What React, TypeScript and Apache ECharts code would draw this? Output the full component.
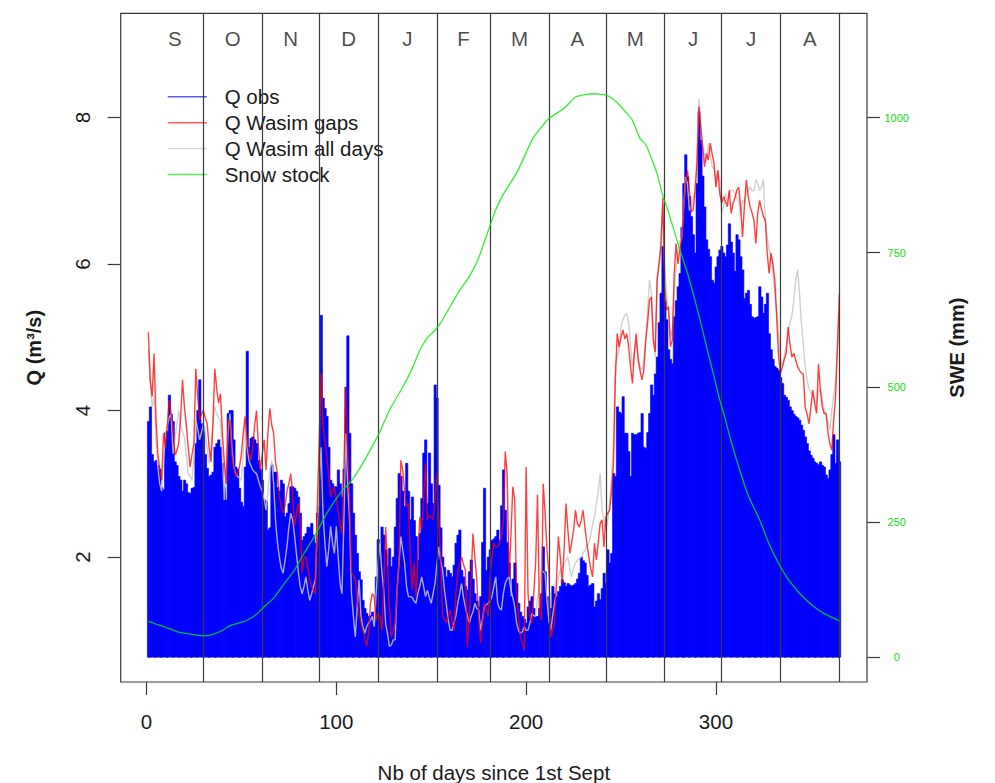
import React, { useEffect, useRef } from "react";
import * as echarts from "echarts";

// Daily values, day 1 = 1st September
const Q_OBS = [
  3.85, 4.05, 3.4, 3.3, 3.32, 3.25, 3.2, 2.95, 2.92, 3.7,
  3.72, 4.21, 3.95, 3.85, 3.3, 3.25, 3.1, 3.05, 2.9, 3.05,
  3.0, 2.88, 2.87, 2.94, 2.95, 3.55, 4.0, 4.42, 3.82, 3.78,
  3.4, 3.21, 3.1, 3.12, 3.16, 3.5, 3.55, 3.6, 3.5, 3.28,
  2.95, 2.78, 3.96, 4.0, 4.0, 3.6, 3.23, 3.2, 2.94, 2.75,
  2.69, 3.23, 4.81, 3.5, 3.62, 3.64, 3.6, 3.55, 3.32, 3.2,
  3.05, 2.78, 2.76, 2.37, 2.4, 3.26, 3.16, 3.16, 2.95, 2.9,
  3.05, 3.0, 2.55, 2.6, 2.73, 2.96, 2.96, 2.94, 2.9, 2.82,
  2.6, 2.23, 2.28, 2.32, 2.41, 2.4, 2.46, 2.3, 2.19, 2.6,
  2.7, 5.3, 4.17, 4.03, 3.92, 3.5, 3.05, 3.0, 2.96, 2.96,
  3.19, 3.0, 2.82, 3.2, 4.32, 5.02, 3.69, 3.0, 2.6, 2.3,
  2.05, 1.8, 1.69, 1.41, 1.3, 1.23, 1.19, 1.2, 1.25, 1.15,
  1.73, 2.24, 2.12, 2.41, 2.3, 2.1, 1.87, 2.12, 1.87, 2.0,
  2.41, 2.8, 3.14, 3.1, 2.9, 2.69, 3.28, 2.9, 2.51, 2.82,
  2.5, 2.28, 1.96, 2.32, 2.8, 3.42, 3.6, 2.73, 3.42, 3.0,
  2.73, 4.35, 4.17, 2.98, 2.4, 2.0, 1.86, 1.73, 1.82, 1.78,
  1.73, 1.89, 2.19, 2.3, 2.37, 1.82, 1.73, 1.6, 1.55, 1.8,
  1.96, 1.7, 1.5, 1.4, 1.32, 1.46, 2.2, 2.94, 1.82, 2.0,
  2.1, 2.23, 2.25, 2.28, 2.37, 2.23, 2.7, 3.19, 2.64, 2.2,
  1.92, 1.46, 1.7, 1.92, 1.64, 1.37, 1.25, 1.19, 1.15, 1.1,
  1.32, 1.4, 1.46, 1.3, 1.19, 1.19, 1.3, 1.5, 2.14, 1.8,
  1.46, 1.1, 1.3, 1.6, 1.5, 1.46, 1.53, 1.6, 1.69, 1.65,
  1.6, 1.64, 1.62, 1.6, 1.62, 1.64, 1.7, 1.78, 2.0, 1.95,
  1.92, 1.75, 1.6, 1.62, 1.64, 1.32, 1.4, 1.5, 1.42, 1.57,
  1.78, 1.64, 2.1, 1.92, 2.05, 3.14, 3.1, 4.05, 3.98, 3.96,
  4.19, 3.69, 3.69, 3.44, 3.1, 3.69, 3.67, 3.67, 3.69, 3.7,
  3.96, 3.5, 3.48, 3.7, 3.96, 4.35, 4.21, 4.5, 4.73, 5.2,
  5.6, 6.24, 5.5, 5.24, 4.83, 4.7, 4.64, 5.28, 5.5, 5.69,
  5.87, 6.5, 7.1, 7.49, 7.19, 6.92, 6.65, 6.4, 6.15, 7.1,
  8.08, 7.69, 7.2, 6.78, 6.33, 6.2, 6.1, 5.78, 5.74, 5.96,
  6.1, 6.19, 6.24, 6.15, 6.1, 6.26, 6.55, 6.3, 6.15, 5.9,
  6.4, 6.33, 6.1, 5.92, 5.53, 5.6, 5.64, 5.45, 5.28, 5.26,
  5.27, 5.28, 5.69, 5.55, 5.33, 5.45, 5.6, 5.05, 4.83, 4.7,
  4.6, 4.58, 4.55, 4.45, 4.37, 4.21, 4.18, 4.14, 4.05, 4.0,
  3.95, 3.92, 3.9, 3.87, 3.8, 3.73, 3.64, 3.55, 3.45, 3.39,
  3.35, 3.3, 3.28, 3.26, 3.3, 3.25, 3.23, 3.12, 3.07, 3.19,
  3.4, 3.67, 3.28, 3.6, 3.3,
];

const Q_WASIM_GAPS = [
  5.07, 4.42, 4.19, 4.78, 3.9, 3.41, 3.2, 3.05, 3.69, 3.5,
  3.8, 4.14, 3.95, 3.78, 3.39, 3.45, 3.55, 3.9, 4.42, 4.05,
  3.8, 3.5, 3.23, 3.4, 3.55, 4.57, 4.2, 3.87, 3.95, 4.0,
  3.9, 3.82, 3.5, 3.3, 3.8, 4.57, 4.3, 4.1, 4.23, 3.69,
  3.3, 3.0, 3.87, 3.87, 3.4, 3.23, 3.1, 3.15, 3.23, 3.4,
  3.7, 3.92, 3.6, 3.41, 3.32, 3.5, 3.8, 4.0, 3.5, 3.19,
  3.4, 3.6, 3.19, 3.7, 4.03, 3.8, 3.69, 3.3, 3.14, 2.82,
  2.7, 2.6, 2.7, 2.9, 3.0, 3.14, 2.87, 2.42, 2.6, 2.73,
  2.5, 1.78, 2.0, 2.0, 1.85, 1.7, 1.6, 1.55, 1.5, 2.69,
  3.6, 4.51, 3.8, 3.6, 3.37, 3.1, 2.82, 2.9, 2.96, 2.8,
  2.6, 2.45, 2.32, 3.2, 4.32, 3.5, 2.82, 1.78, 1.75, 1.69,
  1.4, 1.23, 1.1, 1.0, 0.9, 0.78, 0.96, 1.37, 1.5, 1.46,
  1.14, 1.23, 1.19, 1.0, 1.6, 2.41, 1.92, 1.3, 0.91, 1.0,
  1.1, 1.5, 1.92, 3.32, 3.19, 2.9, 2.69, 2.73, 2.0, 1.55,
  1.92, 1.46, 2.0, 2.55, 2.37, 2.8, 3.28, 2.51, 2.57, 2.55,
  2.51, 2.8, 3.14, 2.51, 1.96, 1.19, 1.15, 1.1, 1.2, 1.28,
  1.1, 1.0, 1.51, 1.78, 1.9, 2.0, 1.9, 1.82, 0.78, 1.14,
  1.7, 2.32, 2.0, 1.69, 1.2, 0.82, 1.1, 1.37, 1.3, 1.19,
  1.73, 2.0, 2.19, 2.14, 2.14, 2.19, 2.3, 2.46, 3.44, 3.14,
  1.73, 2.3, 2.96, 2.78, 1.46, 1.2, 0.91, 0.82, 0.73, 3.23,
  1.5, 1.19, 1.1, 1.5, 1.92, 2.85, 1.28, 1.14, 3.0, 2.6,
  2.1, 1.78, 0.91, 1.0, 1.1, 1.7, 2.28, 2.0, 1.64, 2.1,
  2.73, 2.37, 2.05, 2.2, 2.37, 2.64, 2.46, 2.41, 2.5, 2.64,
  2.4, 2.19, 2.0, 1.85, 1.73, 2.19, 1.96, 2.2, 2.46, 2.51,
  2.14, 2.55, 2.6, 2.64, 2.9, 3.28, 4.42, 5.05, 4.87, 5.0,
  5.1, 4.98, 5.05, 4.87, 4.6, 4.37, 4.78, 5.05, 4.69, 4.55,
  4.42, 4.55, 4.96, 5.2, 5.51, 5.55, 4.96, 4.8, 5.78, 6.0,
  6.24, 6.9, 5.69, 5.37, 5.42, 4.87, 4.96, 5.87, 6.28, 6.0,
  6.2, 6.33, 6.78, 7.1, 7.28, 7.01, 6.71, 6.74, 7.0, 7.37,
  8.15, 7.87, 7.6, 7.33, 7.51, 7.42, 7.65, 7.5, 7.37, 7.05,
  7.28, 6.96, 6.83, 6.92, 6.85, 6.78, 7.01, 6.69, 6.83, 6.9,
  7.01, 7.05, 6.78, 6.37, 6.8, 7.15, 6.92, 6.78, 6.7, 6.6,
  6.28, 6.69, 6.87, 6.75, 6.65, 6.6, 6.15, 5.87, 6.15, 6.0,
  5.78, 5.28, 4.73, 4.51, 4.6, 4.7, 4.78, 5.14, 4.9, 4.73,
  4.78, 4.69, 4.6, 4.55, 4.51, 4.5, 4.05, 3.95, 3.82, 4.05,
  4.28, 4.1, 3.96, 4.64, 4.28, 4.05, 3.96, 3.96, 3.7, 3.55,
  3.46, 3.87, 4.19, 4.87, 5.6,
];

const Q_WASIM_ALL = [
  4.83, 4.4, 4.05, 4.19, 3.6, 3.23, 3.0, 2.9, 3.3, 3.69,
  3.8, 3.9, 3.96, 3.41, 3.6, 3.8, 4.0, 3.8, 3.7, 3.64,
  3.4, 3.14, 3.1, 3.05, 3.4, 3.87, 3.75, 3.6, 3.7, 3.82,
  3.7, 3.5, 3.28, 3.5, 3.8, 4.05, 3.95, 3.9, 3.87, 3.41,
  2.78, 3.2, 3.7, 3.96, 3.5, 3.23, 3.14, 3.1, 3.08, 3.05,
  3.4, 3.87, 3.5, 3.32, 3.25, 3.19, 3.16, 3.14, 3.05, 2.96,
  2.9, 2.8, 2.64, 2.9, 3.2, 3.32, 3.0, 2.5, 2.2, 2.0,
  1.85, 1.78, 1.95, 2.14, 2.4, 2.6, 2.51, 2.3, 2.05, 1.8,
  1.6, 1.5, 1.6, 1.73, 1.55, 1.41, 1.5, 1.6, 1.69, 2.4,
  3.0, 3.5, 2.6, 2.2, 1.87, 2.1, 2.42, 2.2, 2.05, 2.42,
  2.0, 1.64, 1.5, 2.5, 3.69, 3.0, 2.5, 1.5, 1.2, 0.91,
  1.3, 1.69, 1.19, 1.05, 0.96, 1.05, 1.1, 1.14, 1.19, 1.05,
  1.5, 1.92, 2.19, 1.8, 1.55, 1.1, 0.95, 0.78, 0.8, 0.87,
  0.87, 1.55, 1.9, 2.28, 2.1, 1.92, 1.6, 1.46, 1.46, 1.45,
  1.4, 1.37, 1.51, 1.6, 1.73, 1.6, 1.46, 1.55, 1.45, 1.37,
  1.5, 1.64, 1.9, 2.14, 1.95, 1.82, 1.55, 1.35, 1.14, 1.0,
  1.0, 1.1, 1.2, 1.37, 1.5, 1.64, 1.45, 1.32, 1.2, 1.1,
  1.19, 1.25, 1.37, 1.3, 1.28, 1.0, 1.15, 1.32, 1.35, 1.37,
  1.4, 1.46, 1.6, 1.73, 1.37, 1.3, 1.28, 1.5, 1.64, 1.7,
  1.73, 1.55, 1.45, 1.32, 1.1, 1.0, 0.96, 0.98, 1.05, 1.0,
  1.0, 1.1, 1.23, 1.2, 1.19, 1.46, 1.6, 1.82, 1.8, 1.78,
  1.4, 1.14, 1.0, 1.2, 1.37, 1.55, 1.73, 1.82, 1.85, 1.92,
  1.95, 2.0, 1.85, 1.73, 1.85, 1.92, 1.96, 1.98, 2.0, 2.05,
  2.1, 2.15, 2.19, 2.3, 2.45, 2.55, 2.73, 2.9, 3.14, 2.64,
  2.51, 2.37, 2.5, 2.73, 3.1, 3.51, 4.64, 4.73, 4.83, 5.14,
  5.24, 5.3, 5.33, 5.2, 4.9, 4.6, 4.8, 4.95, 4.75, 4.6,
  4.55, 4.7, 4.96, 5.4, 5.78, 5.6, 5.0, 4.73, 5.78, 6.0,
  6.33, 6.83, 5.95, 5.6, 5.33, 5.0, 5.1, 5.6, 5.97, 6.2,
  6.3, 6.37, 6.78, 7.19, 7.1, 6.73, 6.8, 6.9, 7.0, 7.51,
  8.26, 7.92, 7.6, 7.5, 7.4, 7.65, 7.5, 7.33, 7.3, 7.15,
  7.28, 7.15, 6.69, 6.78, 6.96, 6.83, 6.96, 7.0, 7.01, 6.96,
  6.9, 6.87, 6.65, 6.87, 6.83, 6.96, 7.0, 7.05, 7.0, 7.0,
  7.15, 7.1, 7.0, 7.05, 7.15, 6.6, 6.37, 6.2, 6.1, 5.87,
  5.6, 5.33, 5.0, 4.69, 4.6, 4.75, 4.9, 5.05, 5.2, 5.3,
  5.5, 5.78, 5.92, 5.6, 5.2, 4.9, 4.6, 4.42, 4.3, 4.25,
  4.2, 4.15, 4.1, 4.25, 4.3, 4.15, 4.0, 3.96, 3.85, 3.73,
  4.0, 4.2, 4.42, 4.9, 5.33,
];

// Snow water equivalent (mm), read at sampled days
const SWE_DAYS = [
  1, 5, 10, 16, 22, 30, 35, 40, 43, 48, 53, 58, 62, 67, 72, 78, 83, 88, 95, 102,
  109, 116, 120, 123, 128, 135, 140, 144, 148, 152, 155, 160, 165, 170, 175, 180,
  184, 188, 195, 200, 204, 208, 212, 217, 221, 226, 232, 236, 239, 242, 245, 249,
  252, 256, 260, 263, 266, 269, 272, 274, 278, 281, 285, 288, 292, 295, 299, 302,
  305, 308, 312, 317, 323, 328, 333, 338, 344, 349, 354, 360, 365,
];
const SWE_VALUES = [
  67, 62, 56, 48, 44, 40, 43, 50, 57, 63, 69, 80, 94, 110, 134, 162, 193, 221, 267, 304,
  332, 372, 398, 418, 458, 501, 535, 569, 592, 606, 620, 650, 680, 705, 740, 790,
  829, 858, 897, 935, 964, 982, 998, 1010, 1020, 1038, 1043, 1044, 1043, 1042, 1036, 1024,
  1012, 995, 961, 950, 925, 896, 855, 835, 790, 755, 712, 674, 620, 576, 520, 477,
  440, 400, 353, 300, 255, 210, 174, 145, 119, 102, 88, 76, 68,
];

const MONTH_LABELS = ["S", "O", "N", "D", "J", "F", "M", "A", "M", "J", "J", "A"];
const MONTH_BOUNDS = [0, 30, 61, 91, 122, 153, 181, 212, 242, 273, 303, 334, 365];
const X_TICKS = [0, 100, 200, 300];
const Q_TICKS = [2, 4, 6, 8];
const SWE_TICKS = [0, 250, 500, 750, 1000];
const Q_BASE = 0.635;
const MONTH_LABEL_Q = 9.08;

const FONT = "'Liberation Sans', Arial, Helvetica, sans-serif";
const AXIS_COLOR = "#3a3a3a";
const TEXT_COLOR = "#1a1a1a";

export default function App() {
  const ref = useRef<HTMLDivElement>(null);

  useEffect(() => {
    if (!ref.current) return;
    const chart = echarts.init(ref.current, undefined, { renderer: "svg" });

    const barData = Q_OBS.map((q, i) => [i + 1, q]);
    const gapsData = Q_WASIM_GAPS.map((q, i) => [i + 1, q]);
    const allData = Q_WASIM_ALL.map((q, i) => [i + 1, q]);
    const sweData = SWE_DAYS.map((d, i) => [d, SWE_VALUES[i]]);
    const monthData = MONTH_LABELS.map((m, i) => [
      (MONTH_BOUNDS[i] + MONTH_BOUNDS[i + 1]) / 2,
      MONTH_LABEL_Q,
      m,
    ]);

    const option: any = {
      animation: false,
      grid: {
        left: 120.7,
        right: 128,
        top: 13.3,
        bottom: 101,
        show: true,
        borderColor: AXIS_COLOR,
        borderWidth: 1.2,
        backgroundColor: "transparent",
        containLabel: false,
        outerBoundsMode: "none",
      },
      legend: {
        orient: "vertical",
        left: 167.7,
        top: 86.3,
        padding: 0,
        itemWidth: 39,
        itemHeight: 12,
        itemGap: 4.9,
        icon: "path://M0,0H40V1.4H0Z",
        selectedMode: false,
        textStyle: {
          fontSize: 20.5,
          color: TEXT_COLOR,
          fontFamily: FONT,
          lineHeight: 20,
          padding: [0, 0, 0, 13],
        },
        data: [
          { name: "Q obs", itemStyle: { color: "rgba(0,0,255,0.65)" } },
          { name: "Q Wasim gaps", itemStyle: { color: "rgba(255,0,0,0.65)" } },
          { name: "Q Wasim all days", itemStyle: { color: "rgba(190,190,190,0.65)" } },
          { name: "Snow stock", itemStyle: { color: "rgba(0,230,0,0.65)" } },
        ],
      },
      xAxis: {
        type: "value",
        min: -13.56,
        max: 379.56,
        name: "Nb of days since 1st Sept",
        nameLocation: "middle",
        nameGap: 80,
        nameTextStyle: { fontSize: 20.5, color: TEXT_COLOR, fontFamily: FONT },
        axisLine: { show: false, onZero: false },
        axisTick: {
          show: true,
          inside: false,
          length: 13,
          customValues: X_TICKS,
          lineStyle: { color: AXIS_COLOR, width: 1.2 },
        },
        axisLabel: {
          customValues: X_TICKS,
          fontSize: 20.5,
          color: TEXT_COLOR,
          fontFamily: FONT,
          margin: 29,
        },
        splitLine: { show: false },
      },
      yAxis: [
        {
          type: "value",
          position: "left",
          min: 0.2953,
          max: 9.422,
          name: "Q (m³/s)",
          nameLocation: "middle",
          nameRotate: 90,
          nameGap: 77,
          nameTextStyle: { fontSize: 20, fontWeight: "bold", color: TEXT_COLOR, fontFamily: FONT },
          axisLine: { show: false, onZero: false },
          axisTick: {
            show: true,
            inside: false,
            length: 13,
            customValues: Q_TICKS,
            lineStyle: { color: AXIS_COLOR, width: 1.2 },
          },
          axisLabel: {
            customValues: Q_TICKS,
            rotate: 90,
            fontSize: 20.5,
            color: TEXT_COLOR,
            fontFamily: FONT,
            margin: 28,
          },
          splitLine: { show: false },
        },
        {
          type: "value",
          position: "right",
          min: -45.4,
          max: 1193,
          name: "SWE (mm)",
          nameLocation: "middle",
          nameRotate: 90,
          nameGap: 80,
          nameTextStyle: { fontSize: 20, fontWeight: "bold", color: TEXT_COLOR, fontFamily: FONT },
          axisLine: { show: false, onZero: false },
          axisTick: {
            show: true,
            inside: false,
            length: 13,
            customValues: SWE_TICKS,
            lineStyle: { color: AXIS_COLOR, width: 1.2 },
          },
          axisLabel: {
            customValues: SWE_TICKS,
            formatter: (v: number) => String(v),
            fontSize: 11,
            color: "#10e010",
            fontFamily: FONT,
            align: "center",
            margin: 29.7,
          },
          splitLine: { show: false },
        },
      ],
      series: [
        {
          name: "Q obs",
          type: "custom",
          data: barData,
          encode: { x: 0, y: 1 },
          itemStyle: { color: "#0000ff" },
          clip: true,
          z: 2,
          renderItem: (params: any, api: any) => {
            const d = api.value(0);
            const q = api.value(1);
            const p0 = api.coord([d - 0.5, Q_BASE]);
            const p1 = api.coord([d + 0.5, q]);
            return {
              type: "rect",
              shape: {
                x: p0[0],
                y: p1[1],
                width: p1[0] - p0[0] + 0.4,
                height: p0[1] - p1[1],
              },
              style: { fill: "#0000ff", stroke: "#0000ff", lineWidth: 0.6 },
            };
          },
          markLine: {
            silent: true,
            symbol: ["none", "none"],
            label: { show: false },
            lineStyle: { color: "rgba(20,20,60,0.6)", width: 1, type: [2, 4] },
            data: [[{ coord: [1, Q_BASE] }, { coord: [365, Q_BASE] }]],
          },
        },
        {
          name: "Q Wasim all days",
          type: "line",
          data: allData,
          symbol: "none",
          showSymbol: false,
          z: 3,
          itemStyle: { color: "rgba(200,200,200,0.85)" },
          lineStyle: { color: "rgba(200,200,200,0.85)", width: 1.4 },
        },
        {
          name: "Q Wasim gaps",
          type: "line",
          data: gapsData,
          symbol: "none",
          showSymbol: false,
          z: 4,
          itemStyle: { color: "rgba(255,0,0,0.75)" },
          lineStyle: { color: "rgba(255,0,0,0.75)", width: 1.4 },
        },
        {
          name: "Snow stock",
          type: "line",
          yAxisIndex: 1,
          data: sweData,
          symbol: "none",
          showSymbol: false,
          smooth: 0.2,
          z: 5,
          itemStyle: { color: "rgba(0,235,0,0.8)" },
          lineStyle: { color: "rgba(0,235,0,0.8)", width: 1.3 },
        },
        {
          name: "months",
          type: "scatter",
          data: monthData,
          symbolSize: 0,
          z: 6,
          silent: true,
          label: {
            show: true,
            position: "inside",
            formatter: (p: any) => p.value[2],
            fontSize: 20.5,
            color: TEXT_COLOR,
            fontFamily: FONT,
          },
          markLine: {
            silent: true,
            symbol: ["none", "none"],
            label: { show: false },
            lineStyle: { color: AXIS_COLOR, width: 1.2, type: "solid" },
            data: MONTH_BOUNDS.slice(1).map((v) => ({ xAxis: v })),
          },
        },
      ],
    };

    chart.setOption(option);
    return () => chart.dispose();
  }, []);

  return (
    <div
      ref={ref}
      style={{ position: "absolute", left: 0, top: 0, width: 995, height: 783, background: "#fff" }}
    />
  );
}
